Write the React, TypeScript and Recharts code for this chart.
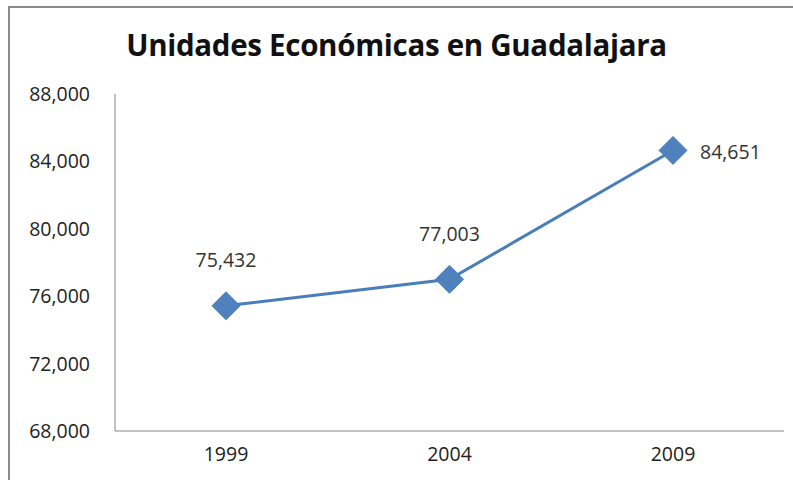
import { LabelList, Line, LineChart, XAxis, YAxis } from 'recharts';

const years = ['1999', '2004', '2009'];
const units = [75432, 77003, 84651];
const yTicks = [68000, 72000, 76000, 80000, 84000, 88000];

const data = years.map((year, i) => ({ year, units: units[i] }));

const font = "'Open Sans', 'Noto Sans', sans-serif";
const fmt = (v: number) => v.toLocaleString('en-US');

function Diamond(props: any) {
  const { cx, cy } = props;
  if (cx == null || cy == null) return null;
  const r = 14;
  return (
    <polygon
      points={`${cx},${cy - r} ${cx + r},${cy} ${cx},${cy + r} ${cx - r},${cy}`}
      fill="#4f81bd"
      stroke="#4a7ebb"
      strokeWidth={1}
    />
  );
}

function PointLabel(props: any) {
  const { x, y, value, index } = props;
  // last point's label sits to the right, the others above
  const right = index === data.length - 1;
  return (
    <text
      x={right ? x + 27 : x}
      y={right ? y + 1 : y - 46}
      textAnchor={right ? 'start' : 'middle'}
      dominantBaseline="central"
      fontSize={19.5}
      fontFamily={font}
      fill="#333"
    >
      {fmt(value)}
    </text>
  );
}

export default function App() {
  return (
    <div style={{ position: 'absolute', left: 0, top: 0, width: 793, height: 480, background: '#fff', overflow: 'hidden' }}>
      <div
        style={{
          position: 'absolute',
          left: 8,
          top: 6,
          width: 800,
          height: 490,
          borderLeft: '2px solid #8a8a8a',
          borderTop: '2px solid #8a8a8a',
        }}
      />
      <div
        style={{
          position: 'absolute',
          left: 0,
          width: 793,
          top: 24,
          textAlign: 'center',
          fontFamily: font,
          fontWeight: 700,
          fontSize: 29.5,
          color: '#111',
          letterSpacing: -0.3,
        }}
      >
        Unidades Económicas en Guadalajara
      </div>
      <div style={{ position: 'absolute', left: 0, top: 0 }}>
        <LineChart width={793} height={480} data={data} margin={{ top: 94, right: 9, bottom: 0, left: 8 }}>
          <XAxis
            dataKey="year"
            stroke="#868686"
            tickLine={false}
            tickSize={0}
            tickMargin={16}
            height={49}
            padding={{ left: 111, right: 111 }}
            tick={{ fill: '#222', fontSize: 19.5, fontFamily: font }}
          />
          <YAxis
            domain={[68000, 88000]}
            ticks={yTicks}
            tickFormatter={fmt}
            stroke="#868686"
            tickLine={false}
            tickSize={0}
            tickMargin={25}
            width={107}
            tick={{ fill: '#222', fontSize: 19.5, fontFamily: font }}
          />
          <Line
            dataKey="units"
            stroke="#4a7ebb"
            strokeWidth={3}
            dot={<Diamond />}
            activeDot={false}
            isAnimationActive={false}
          >
            <LabelList dataKey="units" content={<PointLabel />} />
          </Line>
        </LineChart>
      </div>
    </div>
  );
}
